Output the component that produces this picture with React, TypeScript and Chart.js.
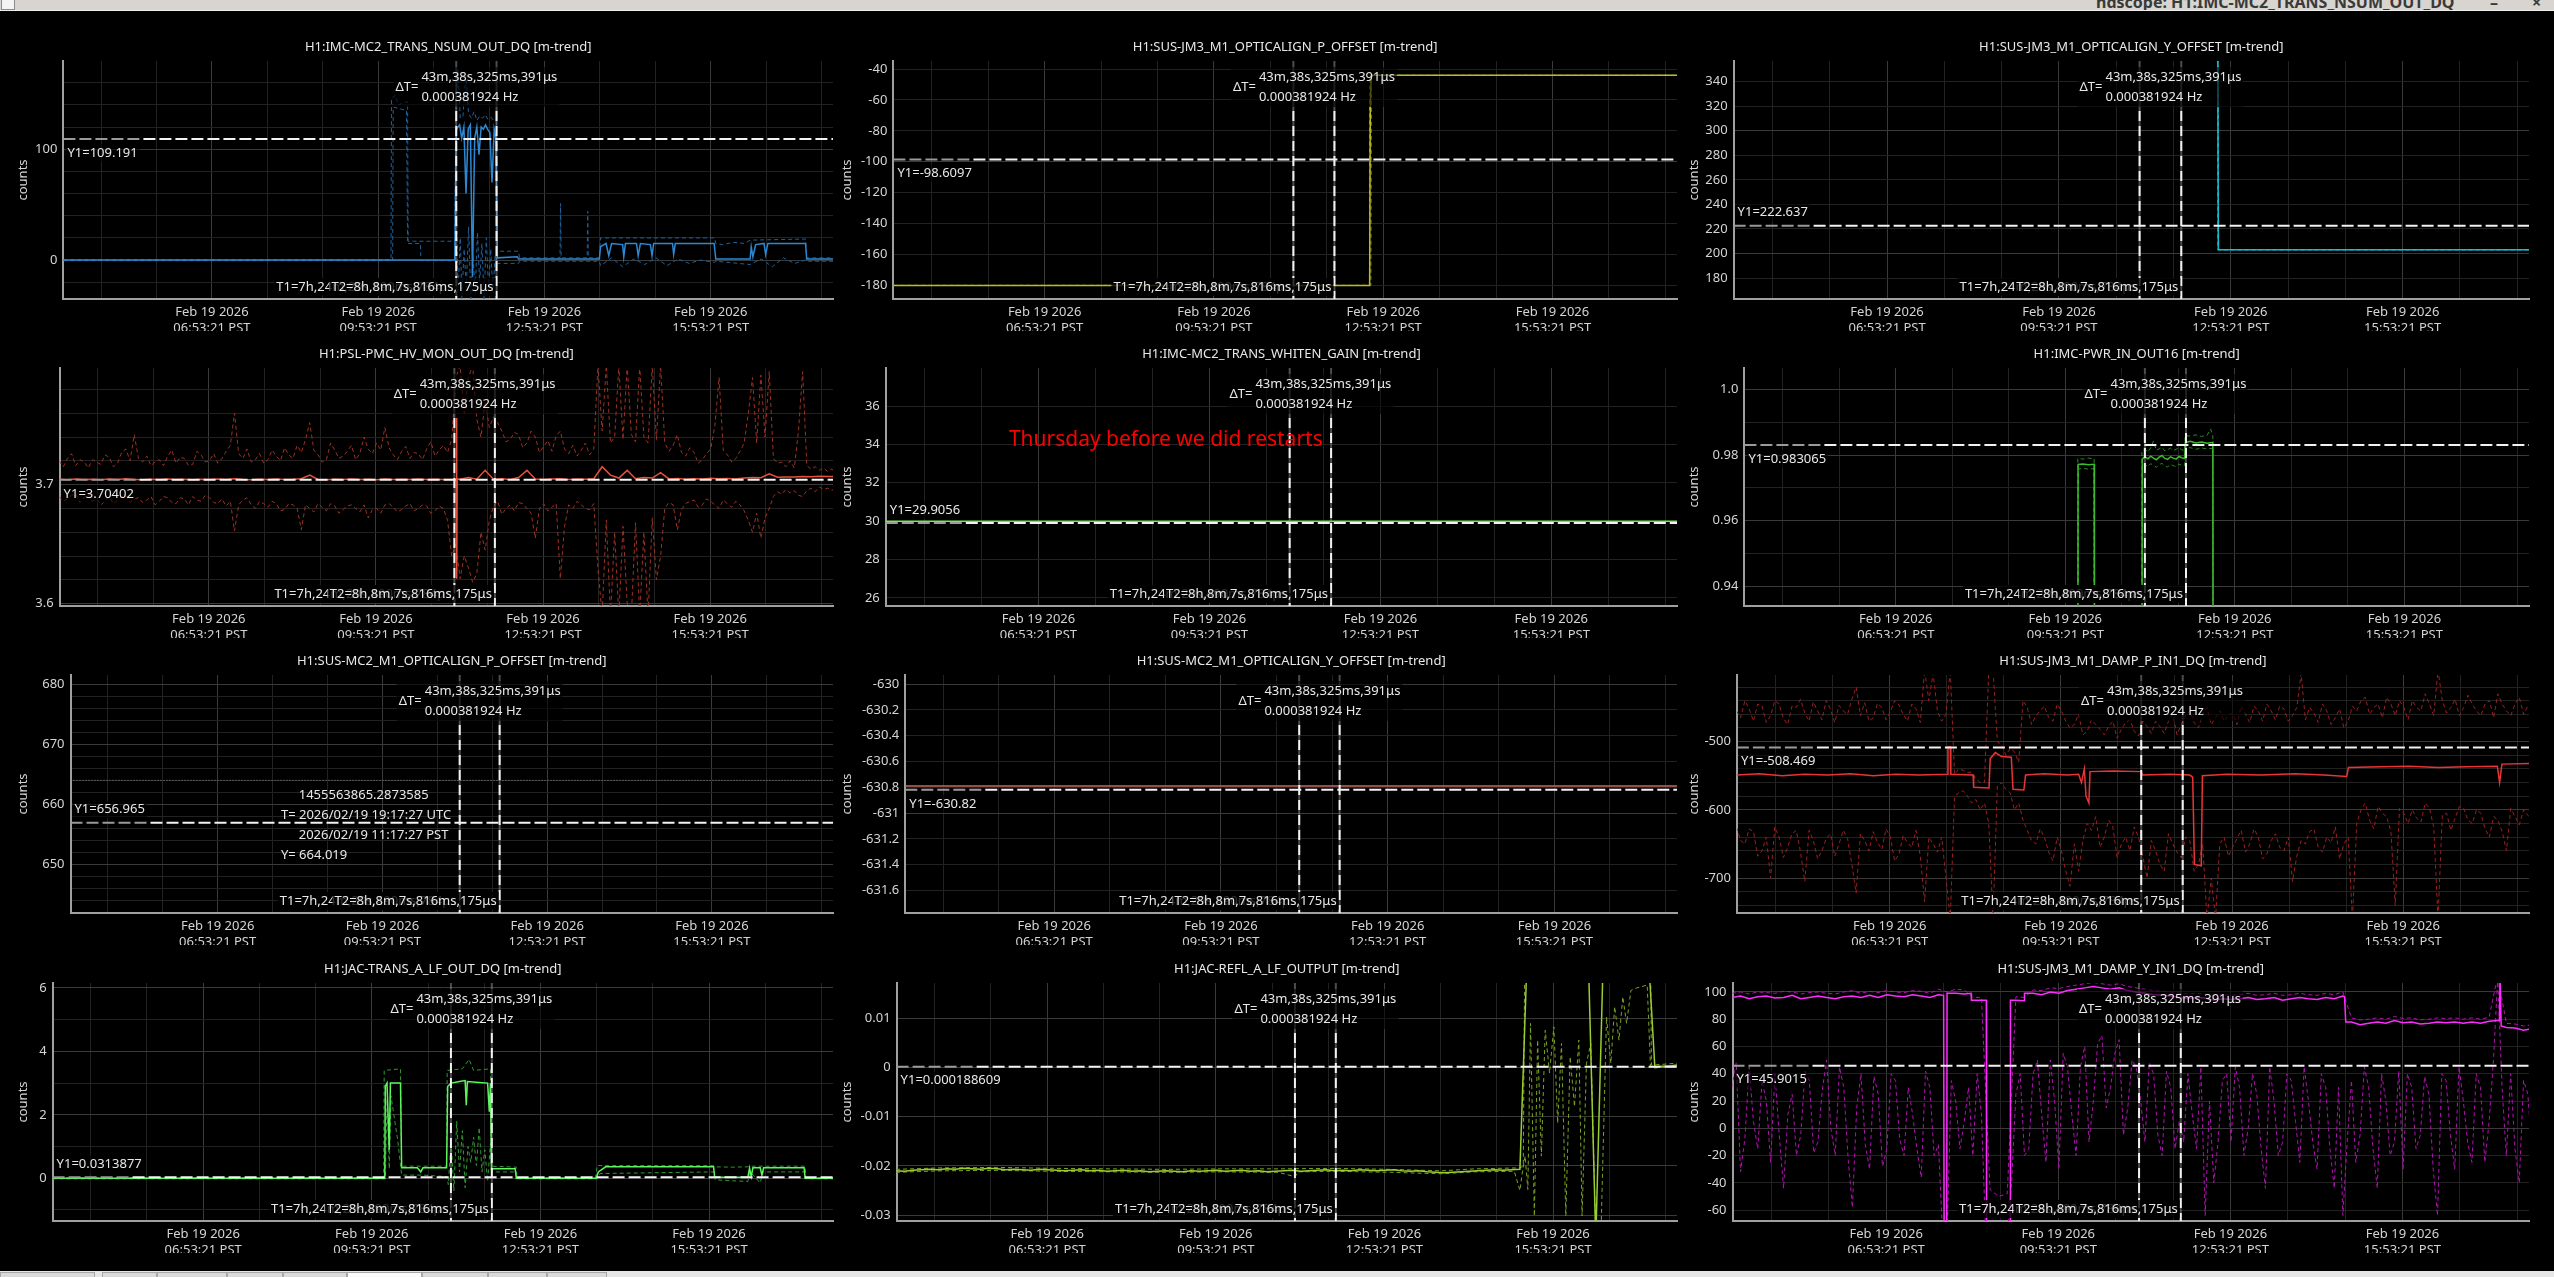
import React, { useEffect, useRef } from "react";
import { Chart, registerables } from "chart.js";

Chart.register(...registerables);

const FONT = '"Noto Sans", "Open Sans", "DejaVu Sans", sans-serif';
const TEXT_COLOR = "#e8e8e8";
const TICK_COLOR = "#d4d4d4";
const GRID_MAJOR = "#3a3a3a";
const GRID_MINOR = "#222222";
const AXIS_COLOR = "#a0a0a0";

// ---------- time axis (hours of Feb 19 2026, PST) ----------
const X_MIN = 4.21;
const X_MAX = 18.095;
const X_TICK_HOURS = [4.8892, 5.8892, 6.8892, 7.8892, 8.8892, 9.8892, 10.8892, 11.8892, 12.8892, 13.8892, 14.8892, 15.8892, 16.8892, 17.8892];
const X_TICK_TIMES = ["", "", "06:53:21 PST", "", "", "09:53:21 PST", "", "", "12:53:21 PST", "", "", "15:53:21 PST", "", ""];
const X_TICK_DATE = "Feb 19 2026";

// ---------- cursors ----------
const T1_HOURS = 11.2974;
const T2_HOURS = 12.0247;
const DT_TEXT = "43m,38s,325ms,391\u03bcs";
const DT_FREQ = "0.000381924 Hz";
const T1_TEXT = "T1=7h,24m,29s,490ms,784\u03bcs";
const T2_TEXT = "T2=8h,8m,7s,816ms,175\u03bcs";
const HOVER_LINES = ["1455563865.2873585", "T= 2026/02/19 19:17:27 UTC", "2026/02/19 11:17:27 PST", "Y= 664.019"];
const HOVER_T = 11.2908;
const HOVER_Y = 664.019;
const NOTE_TEXT = "Thursday before we did restarts";

// sample grids used by the noisy trend channels
const GRID_T0 = 4.2;
const GRID_DT = 0.15;
const GRID_DT_FINE = 0.075;

// ---------- P1 IMC-MC2_TRANS_NSUM ----------
const P1_MEAN = [[4.21,0],[11.27,0],[11.299,118],[11.359,122],[11.396,110],[11.435,120],[11.474,60],[11.513,118],[11.552,122],[11.591,-15],[11.63,110],[11.669,120],[11.708,95],[11.747,120],[11.786,118],[11.826,122],[11.865,118],[11.904,115],[11.943,70],[11.982,118],[12.011,110],[12.04,2],[12.4,3],[12.42,1],[13.88,1],[13.9,12],[14.0,15],[14.05,4],[14.1,15],[14.3,14],[14.32,3],[14.35,15],[14.55,15],[14.58,4],[14.62,15],[14.8,14],[14.83,4],[14.86,15],[15.2,15],[15.22,5],[15.25,15],[15.95,15],[15.98,1],[16.6,1],[16.62,12],[16.65,3],[16.7,14],[16.85,15],[16.88,5],[16.92,15],[17.6,15],[17.62,1],[18.1,1]];
const P1_MAX = [[4.21,0.5],[10.12,0.5],[10.13,145],[10.2,149],[10.25,140],[10.42,143],[10.43,17],[11.27,17],[11.29,135],[11.33,172],[11.37,128],[11.42,130],[11.47,168],[11.52,132],[11.57,128],[11.62,134],[11.67,126],[11.72,130],[11.77,128],[11.82,131],[11.87,127],[11.92,129],[11.97,126],[12.02,125],[12.04,8],[12.42,8],[12.44,2],[13.17,2],[13.18,51],[13.19,2],[13.66,2],[13.67,44],[13.68,2],[13.88,2],[13.9,20],[15.96,20],[15.98,15],[16.1,14],[16.3,16],[16.5,15],[16.6,18],[17.6,19],[17.62,2],[18.1,2]];
const P1_MIN = [[4.21,-0.5],[10.15,-0.5],[10.16,138],[10.4,135],[10.42,15],[10.65,15],[10.66,-0.5],[11.28,-0.5],[11.3,60],[11.33,-30],[11.37,20],[11.4,-35],[11.44,10],[11.48,-25],[11.52,30],[11.56,-35],[11.6,5],[11.64,-30],[11.68,25],[11.72,-20],[11.76,15],[11.8,-35],[11.84,20],[11.88,-25],[11.92,10],[11.96,-30],[12.0,5],[12.04,-3],[12.42,-3],[12.44,-1],[13.88,-1],[13.9,-5],[14.1,2],[14.3,-6],[14.5,1],[14.7,-4],[14.9,2],[15.1,-5],[15.3,1],[15.5,-3],[15.7,0],[15.96,-2],[15.98,-1],[16.6,-4],[16.8,1],[17.0,-6],[17.2,2],[17.4,-3],[17.6,0],[17.62,-1],[18.1,-1]];

// ---------- P2 SUS-JM3 P OFFSET ----------
const P2_MEAN = [[4.21,-180],[12.649,-180],[12.66,-67],[12.675,-44.1],[18.1,-44.1]];
const P2_MAX = [[4.21,-180],[12.645,-180],[12.65,-44.1],[18.1,-44.1]];
const P2_MIN = [[4.21,-180],[12.67,-180],[12.68,-44.1],[18.1,-44.1]];

// ---------- P3 SUS-JM3 Y OFFSET ----------
const P3_MEAN = [[4.21,420],[12.66,420],[12.665,316],[12.672,203],[18.1,203]];
const P3_MAX = [[4.21,420],[12.672,420],[12.678,203],[18.1,203]];
const P3_MIN = [[4.21,420],[12.655,420],[12.66,203],[18.1,203]];

// ---------- P4 PSL-PMC_HV_MON ----------
const P4_MEAN = [3.7045,3.7040,3.7048,3.7042,3.7046,3.7041,3.7047,3.7043,3.7049,3.7044,3.7040,3.7046,3.7042,3.7047,3.7043,3.7045,3.7041,3.7046,3.7042,3.7047,3.7043,3.7050,3.7044,3.7040,3.7046,3.7042,3.7047,3.7043,3.7045,3.7050,3.7080,3.7044,3.7041,3.7046,3.7042,3.7047,3.7043,3.7046,3.7041,3.7048,3.7043,3.7046,3.7042,3.7047,3.7044,3.7046,3.7042,3.7044,3.7046,3.7060,3.7045,3.7120,3.7046,3.7050,3.7044,3.7060,3.7120,3.7048,3.7044,3.7047,3.7050,3.7044,3.7048,3.7045,3.7050,3.7150,3.7080,3.7055,3.7120,3.7050,3.7060,3.7055,3.7100,3.7048,3.7052,3.7046,3.7050,3.7047,3.7053,3.7049,3.7051,3.7047,3.7055,3.7060,3.7058,3.7090,3.7062,3.7065,3.7063,3.7068,3.7066,3.7070,3.7068,3.7070];
const P4_MEAN_EXTRA = [[11.33,3.7045],[11.336,3.756],[11.342,3.621],[11.348,3.7048]];
const P4_MAX = [3.720,3.715,3.722,3.726,3.716,3.721,3.719,3.714,3.721,3.719,3.717,3.725,3.723,3.715,3.718,3.727,3.730,3.720,3.742,3.722,
3.719,3.724,3.716,3.719,3.721,3.716,3.724,3.729,3.718,3.723,3.722,3.716,3.717,3.728,3.725,3.719,3.720,3.726,3.718,3.722,
3.728,3.733,3.760,3.726,3.722,3.730,3.719,3.721,3.726,3.718,3.721,3.729,3.724,3.720,3.731,3.725,3.722,3.733,3.727,3.738,
3.752,3.729,3.725,3.719,3.721,3.735,3.729,3.722,3.724,3.728,3.733,3.721,3.726,3.740,3.730,3.726,3.735,3.729,3.748,3.731,
3.725,3.721,3.728,3.732,3.722,3.727,3.726,3.721,3.730,3.736,3.724,3.729,3.733,3.727,3.738,3.790,3.800,3.760,3.790,3.800,
3.755,3.740,3.770,3.748,3.757,3.752,3.745,3.736,3.738,3.744,3.742,3.731,3.735,3.745,3.740,3.727,3.732,3.737,3.728,3.741,
3.745,3.730,3.726,3.733,3.724,3.729,3.735,3.725,3.730,3.800,3.745,3.800,3.735,3.740,3.800,3.738,3.800,3.742,3.736,3.800,
3.740,3.735,3.800,3.738,3.800,3.735,3.728,3.733,3.742,3.727,3.724,3.731,3.727,3.718,3.721,3.726,3.730,3.750,3.790,3.729,
3.725,3.719,3.722,3.728,3.735,3.760,3.790,3.735,3.792,3.740,3.795,3.722,3.718,3.719,3.715,3.720,3.714,3.745,3.795,3.716,
3.713,3.715,3.712,3.714,3.711,3.713,3.710];
const P4_MIN = [3.690,3.686,3.688,3.691,3.692,3.685,3.689,3.692,3.686,3.688,3.683,3.686,3.690,3.684,3.687,3.690,3.691,3.685,3.688,3.689,
3.685,3.687,3.690,3.683,3.686,3.690,3.689,3.685,3.684,3.689,3.688,3.683,3.690,3.687,3.686,3.691,3.689,3.685,3.684,3.688,
3.682,3.686,3.661,3.683,3.687,3.689,3.683,3.680,3.686,3.684,3.681,3.686,3.684,3.678,3.679,3.684,3.683,3.680,3.662,3.683,
3.680,3.677,3.684,3.681,3.678,3.684,3.682,3.676,3.679,3.682,3.683,3.680,3.677,3.683,3.672,3.679,3.680,3.676,3.683,3.684,
3.681,3.677,3.679,3.682,3.684,3.678,3.680,3.683,3.682,3.676,3.678,3.682,3.680,3.670,3.640,3.650,3.621,3.640,3.630,3.618,
3.625,3.660,3.645,3.670,3.682,3.686,3.675,3.680,3.683,3.678,3.685,3.684,3.680,3.676,3.655,3.680,3.684,3.678,3.681,3.684,
3.621,3.665,3.683,3.680,3.686,3.683,3.680,3.679,3.684,3.630,3.590,3.670,3.590,3.660,3.590,3.665,3.600,3.590,3.668,3.590,
3.660,3.590,3.672,3.620,3.640,3.680,3.685,3.683,3.662,3.679,3.684,3.686,3.687,3.681,3.683,3.688,3.686,3.683,3.680,3.687,
3.684,3.681,3.686,3.683,3.678,3.670,3.660,3.676,3.655,3.672,3.680,3.690,3.694,3.692,3.696,3.693,3.695,3.691,3.690,3.695,
3.697,3.694,3.698,3.696,3.697,3.695,3.698];

// ---------- P5 WHITEN_GAIN ----------
const P5_MEAN = [[4.21,30.0],[18.1,30.0]];

// ---------- P6 IMC-PWR_IN ----------
const P6_MEAN = [[4.21,0.9],[10.11,0.9],[10.115,0.9772],[10.2,0.9773],[10.3,0.9771],[10.40,0.9772],[10.405,0.9],[11.245,0.9],[11.25,0.9788],[11.3,0.9795],[11.35,0.9789],[11.4,0.9797],[11.45,0.9791],[11.5,0.9786],[11.55,0.9794],[11.6,0.9799],[11.65,0.979],[11.7,0.9787],[11.75,0.9795],[11.8,0.9791],[11.85,0.9788],[11.9,0.9796],[11.95,0.9792],[12.0,0.979],[12.012,0.9838],[12.1,0.9842],[12.2,0.9837],[12.3,0.984],[12.4,0.9836],[12.5,0.9839],[12.505,0.9],[18.1,0.9]];
const P6_MAX = [[4.21,0.9],[10.105,0.9],[10.11,0.979],[10.2,0.9788],[10.3,0.9791],[10.40,0.9789],[10.405,0.9],[11.24,0.9],[11.245,0.9812],[11.3,0.9818],[11.35,0.981],[11.4,0.9822],[11.45,0.9843],[11.5,0.9815],[11.55,0.9819],[11.6,0.9824],[11.65,0.9813],[11.7,0.9817],[11.75,0.9821],[11.8,0.9814],[11.85,0.9818],[11.9,0.9823],[11.95,0.9816],[12.0,0.9815],[12.01,0.986],[12.1,0.9858],[12.2,0.9862],[12.3,0.9857],[12.4,0.9861],[12.46,0.988],[12.5,0.9859],[12.51,0.9],[18.1,0.9]];
const P6_MIN = [[4.21,0.9],[10.12,0.9],[10.125,0.9758],[10.2,0.976],[10.3,0.9757],[10.395,0.9759],[10.4,0.9],[11.25,0.9],[11.255,0.9768],[11.3,0.9772],[11.35,0.9765],[11.4,0.9774],[11.45,0.9769],[11.5,0.9763],[11.55,0.9771],[11.6,0.9775],[11.65,0.9767],[11.7,0.9764],[11.75,0.9772],[11.8,0.9768],[11.85,0.9765],[11.9,0.9773],[11.95,0.9769],[12.0,0.9768],[12.015,0.982],[12.1,0.9823],[12.2,0.9818],[12.3,0.9822],[12.4,0.9819],[12.5,0.9821],[12.502,0.9],[18.1,0.9]];

// ---------- P7 / P8 constant offsets ----------
const P7_MEAN = [[4.21,664.02],[18.1,664.02]];
const P8_MEAN = [[4.21,-630.79],[18.1,-630.79]];

// ---------- P9 SUS-JM3_M1_DAMP_P ----------
const P9_MEAN = [[4.19,-549],[4.6,-547],[5.0,-550],[5.4,-548],[5.8,-549],[6.2,-547],[6.6,-550],[7.0,-548],[7.4,-549],[7.9,-548],[7.91,-508],[7.95,-508],[7.96,-548],[8.35,-549],[8.36,-567],[8.63,-568],[8.65,-525],[8.74,-516],[8.85,-522],[9.02,-523],[9.05,-570],[9.24,-571],[9.27,-549],[9.6,-547],[10.0,-549],[10.2,-548],[10.25,-560],[10.3,-540],[10.33,-580],[10.38,-590],[10.4,-544],[10.8,-543],[11.3,-544],[11.32,-549],[11.8,-548],[12.15,-549],[12.2,-552],[12.23,-680],[12.35,-682],[12.37,-550],[12.8,-548],[13.4,-549],[14.0,-547],[14.5,-549],[14.9,-551],[14.93,-538],[15.5,-537],[16.0,-536],[16.5,-538],[17.0,-537],[17.54,-536],[17.58,-560],[17.62,-533],[18.12,-532]];
const P9_MAX = [-455,-465,-440,-452,-470,-445,-448,-472,-462,-440,-445,-466,-475,-448,-450,-438,-458,-470,-442,-455,
-468,-440,-452,-472,-447,-455,-460,-438,-420,-462,-443,-470,-465,-444,-450,-468,-456,-440,-446,-460,
-470,-445,-452,-472,-395,-440,-400,-455,-470,-460,-395,-548,-540,-542,-545,-545,-555,-560,-560,-395,
-395,-500,-505,-520,-510,-515,-530,-440,-450,-475,-462,-455,-448,-465,-470,-445,-455,-470,-480,-475,
-460,-490,-485,-468,-475,-482,-490,-478,-470,-495,-482,-472,-468,-485,-492,-470,-478,-488,-470,-478,
-488,-470,-460,-490,-475,-462,-455,-472,-480,-460,-450,-475,-465,-455,-470,-462,-458,-475,-448,-460,
-472,-448,-455,-470,-445,-455,-468,-448,-452,-470,-462,-450,-400,-468,-450,-458,-472,-445,-455,-475,
-465,-452,-480,-470,-448,-455,-440,-435,-460,-450,-445,-465,-435,-445,-462,-440,-450,-468,-440,-450,
-455,-430,-445,-462,-395,-440,-458,-450,-438,-462,-450,-432,-445,-455,-462,-445,-440,-465,-430,-445,
-455,-462,-445,-435,-460,-448,-450];
const P9_MIN = [-625,-645,-650,-628,-632,-668,-660,-640,-700,-625,-640,-670,-655,-635,-630,-662,-705,-630,-645,-672,
-660,-642,-635,-668,-650,-630,-642,-680,-722,-635,-645,-660,-632,-648,-658,-628,-640,-675,-665,-638,
-648,-655,-630,-668,-735,-640,-650,-662,-640,-700,-760,-580,-575,-572,-580,-590,-585,-600,-590,-620,
-760,-565,-560,-570,-575,-600,-590,-615,-630,-645,-650,-628,-640,-662,-675,-640,-660,-690,-712,-650,
-690,-645,-620,-630,-610,-655,-640,-615,-625,-670,-650,-640,-660,-625,-640,-668,-700,-645,-660,-680,
-690,-635,-650,-662,-670,-640,-645,-690,-680,-650,-760,-700,-760,-650,-640,-668,-655,-642,-630,-662,
-650,-628,-640,-672,-665,-645,-635,-655,-660,-640,-705,-668,-645,-650,-632,-628,-655,-662,-640,-648,
-625,-672,-650,-640,-760,-620,-600,-590,-615,-628,-595,-605,-610,-632,-740,-598,-605,-620,-600,-612,
-618,-590,-598,-625,-760,-608,-605,-630,-612,-595,-598,-615,-620,-600,-605,-628,-640,-610,-615,-632,
-660,-598,-610,-622,-600,-608,-615];

// ---------- P10 JAC-TRANS_A_LF ----------
const P10_MEAN = [[4.21,0],[10.12,0],[10.13,2.9],[10.16,3.0],[10.2,0.9],[10.22,3.0],[10.4,3.0],[10.42,0.33],[10.7,0.33],[10.76,0.2],[10.8,0.33],[11.22,0.33],[11.24,2.9],[11.3,3.0],[11.45,3.05],[11.55,3.08],[11.57,2.3],[11.59,3.05],[11.8,3.02],[11.95,3.0],[11.98,2.1],[12.0,3.0],[12.02,0.3],[12.44,0.3],[12.46,0],[13.88,0],[13.92,0.2],[14.05,0.36],[15.97,0.36],[15.99,0.03],[16.58,0.03],[16.61,0.32],[16.64,0.05],[16.67,0.33],[16.8,0.33],[16.83,0.1],[16.86,0.33],[17.58,0.33],[17.6,0],[18.1,0]];
const P10_MAX = [[4.21,0.02],[10.1,0.02],[10.11,3.4],[10.4,3.45],[10.42,0.38],[11.22,0.38],[11.23,3.4],[11.5,3.45],[11.62,3.75],[11.7,3.4],[12.0,3.45],[12.02,0.38],[12.46,0.35],[12.47,0.02],[13.87,0.02],[13.9,0.4],[15.97,0.4],[16.0,0.36],[16.3,0.35],[16.58,0.36],[16.6,0.38],[17.6,0.38],[17.61,0.02],[18.1,0.02]];
const P10_MIN = [[4.21,-0.02],[10.13,-0.02],[10.16,2.5],[10.2,0.3],[10.23,2.6],[10.35,1.2],[10.42,0.1],[10.8,0.1],[11.23,0.05],[11.25,-0.2],[11.3,1.2],[11.35,-0.4],[11.4,1.8],[11.45,0.2],[11.5,1.5],[11.55,-0.3],[11.6,1.0],[11.65,0.5],[11.7,1.3],[11.75,0.4],[11.8,1.6],[11.85,0.2],[11.9,0.9],[11.95,-0.1],[12.0,1.1],[12.02,0.2],[12.45,0.2],[12.47,-0.02],[13.9,-0.02],[13.95,0.15],[15.97,0.2],[16.0,-0.05],[16.3,-0.08],[16.58,-0.1],[16.62,0.2],[16.8,-0.15],[16.85,0.2],[17.6,0.2],[17.61,-0.02],[18.1,-0.02]];

// ---------- P11 JAC-REFL_A_LF ----------
const P11_MEAN = [-0.0210,-0.0211,-0.0209,-0.0208,-0.0207,-0.0208,-0.0206,-0.0207,-0.0205,-0.0206,-0.0207,-0.0205,-0.0206,-0.0208,-0.0207,-0.0208,-0.0209,-0.0207,-0.0208,-0.0209,-0.0210,-0.0209,-0.0208,-0.0210,-0.0209,-0.0211,-0.0210,-0.0209,-0.0211,-0.0210,-0.0212,-0.0211,-0.0210,-0.0211,-0.0212,-0.0210,-0.0211,-0.0210,-0.0209,-0.0211,-0.0210,-0.0209,-0.0211,-0.0210,-0.0212,-0.0211,-0.0210,-0.0209,-0.0211,-0.0210,-0.0209,-0.0208,-0.0210,-0.0209,-0.0210,-0.0208,-0.0209,-0.0210,-0.0209,-0.0208,-0.0210,-0.0211,-0.0210,-0.0212,-0.0213,-0.0214,-0.0213,-0.0212,-0.0211,-0.0210,-0.0209,-0.0208,-0.0209,-0.0208,-0.0207,0.030,0.030,0.030,0.030,0.030,0.030,0.030,0.030,-0.035,0.030,0.030,0.030,0.030,0.030,0.030,0.0002,0.0003,0.0004,0.0006];
const P11_MAX = [[4.2,-0.0207],[5,-0.0204],[6,-0.0203],[7,-0.0205],[8,-0.0206],[9,-0.0207],[10,-0.0206],[11,-0.0206],[12,-0.0205],[13,-0.0207],[13.9,-0.021],[14.5,-0.0206],[15.3,-0.0204],[15.36,-0.02],[15.39,0.03],[17.62,0.03],[17.64,0.0005],[18.1,0.0009]];
const P11_MIN = [[4.2,-0.0213],[5,-0.021],[6,-0.0209],[7,-0.0211],[8,-0.0212],[9,-0.0213],[10,-0.0212],[11,-0.0213],[11.3,-0.0222],[11.35,-0.0212],[12,-0.0211],[13,-0.0213],[13.9,-0.0216],[14.5,-0.0212],[15.2,-0.0211],[15.3,-0.025],[15.345,-0.0212],[15.393,-0.018],[15.441,-0.0248],[15.489,0.009],[15.557,-0.0302],[15.615,0.0056],[15.682,-0.018],[15.75,0.0076],[15.827,-0.0011],[15.904,0.0083],[15.972,-0.0113],[16.04,0.0049],[16.117,-0.0302],[16.194,0.0022],[16.271,-0.0079],[16.348,0.0056],[16.406,-0.0302],[16.484,0.0009],[16.561,0.0049],[16.648,-0.033],[16.744,-0.033],[16.841,0.0103],[16.918,0.0009],[16.986,0.0124],[17.063,0.0056],[17.131,0.0144],[17.198,0.009],[17.275,0.0157],[17.372,0.0162],[17.468,0.0165],[17.565,0.0168],[17.623,0.0002],[17.661,-0.0001],[18.095,0.0003]];

// ---------- P12 SUS-JM3_M1_DAMP_Y ----------
const P12_MEAN = [96,97,95,96.5,97,95.5,96,97.5,95,96,97,96,95,96.5,97,96,97.5,96,98,97,96.5,98,97,96,98,99,99,98.5,94,94,-80,-80,-80,94,93.5,99,98,100,99,101,102,103,104,103,102,103,101,100,99,98,97.5,97,96,95,96,95.5,94,95,94.5,95,96,94.5,95,96,94,95,96,95,94.5,96,95,97,78,76,77,78,77,79,77.5,78,76.5,77,78,77.5,78,77,78,77,78.5,79,74,73.5,72,73];
const P12_MEAN_EXTRA = [[7.89,97.5],[7.9,-80],[7.945,-80],[8.37,99],[8.375,94],[8.635,94],[8.64,-80],[9.05,-80],[9.055,94],[9.28,93.5],[9.3,99],[14.88,96.5],[14.9,78],[17.58,79],[17.59,112],[17.61,75]];
const P12_MAX = [99,100,98.5,100,99.5,99,100.5,100,98.5,99.5,100,99,98.5,100,101,99,100.5,99.5,101,100,99.5,101,100.5,99,102,100,102,101.5,96,96,-45,-50,-48,96.5,96,101.5,101,103,102.5,104,105,106,107,106,105,106,104,103,102,101,100.5,100,99,98.5,99,98.5,97.5,98,97.5,98,99,97.5,98,99,97.5,98,99,98,97.5,99,98,100,81,79.5,80,81,80,82,80.5,81,79.5,80,81,80.5,81,80,81,80,81.5,112,77,76.5,75,76];
const P12_MIN = [30,48,-32,-8,45,5,-15,35,20,-25,40,-5,-44,10,25,-20,-5,42,35,-18,
-10,28,50,0,-20,45,30,-22,-58,15,40,-12,-30,38,25,-28,-15,40,35,-8,
-20,30,10,-15,-36,42,30,-20,-12,-80,-80,35,20,-15,5,30,-20,40,10,-80,
-80,-80,-80,-80,-80,-40,25,40,-20,-15,40,50,10,-25,50,20,-30,55,45,10,
-20,45,60,-10,20,62,68,15,30,55,65,-5,15,50,45,20,-10,48,40,-5,
-20,42,30,-15,5,-10,40,10,-15,45,-64,20,-40,-10,35,40,-10,45,30,-20,
0,40,25,-15,-44,45,20,-20,-10,40,35,5,-25,45,20,-10,-30,40,30,-15,
-44,30,-64,-10,35,-25,-5,45,30,-15,-44,40,20,-20,-10,42,-30,40,30,-15,
-5,38,25,-30,-64,40,35,-5,-30,45,20,-10,-25,40,30,-25,5,50,110,30,
-20,40,-15,-40,35,25,-20];

// ---------- layout ----------
const COL_LEFT = [12, 836, 1683];
const COL_RIGHT = [836, 1683, 2554];
const COL_PAD_RIGHT = [3, 6, 25];
const ROW_TOP = [24, 331, 638, 946];
const CANVAS_H = 307;
const PLOT_TOP = 37;
const XAXIS_H = 32;

const fromPairs = (p: number[][]) => p.map(([x, y]) => ({ x, y }));
const fromGrid = (v: number[], dt: number = GRID_DT) => v.map((y, i) => ({ x: GRID_T0 + i * dt, y }));
const withExtra = (pts: any[], extra: number[][]) => [...pts, ...fromPairs(extra)].sort((a, b) => a.x - b.x);

const PANELS: any[] = [
  { title: "H1:IMC-MC2_TRANS_NSUM_OUT_DQ [m-trend]", col: 0, row: 0, plotLeft: 63.4, yMin: -35.1, yMax: 179.6, minor: 20, labelStep: 100, majorStep: 100, y1: 109.191, y1Above: false, color: "#2d88d4", env: "#1f6099", mean: fromPairs(P1_MEAN), min: fromPairs(P1_MIN), max: fromPairs(P1_MAX) },
  { title: "H1:SUS-JM3_M1_OPTICALIGN_P_OFFSET [m-trend]", col: 1, row: 0, plotLeft: 893.4, yMin: -188.8, yMax: -34.8, minor: 20, labelStep: 20, majorStep: 100, y1: -98.6097, y1Above: false, color: "#bcbd22", env: "#8c8d18", mean: fromPairs(P2_MEAN), min: fromPairs(P2_MIN), max: fromPairs(P2_MAX) },
  { title: "H1:SUS-JM3_M1_OPTICALIGN_Y_OFFSET [m-trend]", col: 2, row: 0, plotLeft: 1733.6, yMin: 162.9, yMax: 356.8, minor: 20, labelStep: 20, majorStep: 100, y1: 222.637, y1Above: true, color: "#17becf", env: "#108d99", mean: fromPairs(P3_MEAN), min: fromPairs(P3_MIN), max: fromPairs(P3_MAX) },
  { title: "H1:PSL-PMC_HV_MON_OUT_DQ [m-trend]", col: 0, row: 1, plotLeft: 59.6, yMin: 3.598, yMax: 3.798, minor: 0.02, labelStep: 0.1, majorStep: 0.1, y1: 3.70402, y1Above: false, color: "#e8503a", env: "#9c3222", mean: withExtra(fromGrid(P4_MEAN), P4_MEAN_EXTRA), min: fromGrid(P4_MIN, GRID_DT_FINE), max: fromGrid(P4_MAX, GRID_DT_FINE) },
  { title: "H1:IMC-MC2_TRANS_WHITEN_GAIN [m-trend]", col: 1, row: 1, plotLeft: 885.8, yMin: 25.58, yMax: 37.98, minor: 2, labelStep: 2, majorStep: 10, y1: 29.9056, y1Above: true, color: "#76ea4e", env: "#76ea4e", mean: fromPairs(P5_MEAN), note: { t: 6.37, y: 34.22 } },
  { title: "H1:IMC-PWR_IN_OUT16 [m-trend]", col: 2, row: 1, plotLeft: 1744.4, yMin: 0.934, yMax: 1.00658, minor: 0.01, labelStep: 0.02, majorStep: 0.02, y1: 0.983065, y1Above: false, oneDecimal: true, color: "#3dbb2c", env: "#2a8a20", mean: fromPairs(P6_MEAN), min: fromPairs(P6_MIN), max: fromPairs(P6_MAX) },
  { title: "H1:SUS-MC2_M1_OPTICALIGN_P_OFFSET [m-trend]", col: 0, row: 2, plotLeft: 70.5, yMin: 641.9, yMax: 681.6, minor: 2, labelStep: 10, majorStep: 10, y1: 656.965, y1Above: true, color: "#8e8e8e", env: "#8e8e8e", meanDash: [1, 2], meanWidth: 1, mean: fromPairs(P7_MEAN), hover: true },
  { title: "H1:SUS-MC2_M1_OPTICALIGN_Y_OFFSET [m-trend]", col: 1, row: 2, plotLeft: 905.3, yMin: -631.775, yMax: -629.93, minor: 0.2, labelStep: 0.2, majorStep: 1, y1: -630.82, y1Above: false, color: "#c4685c", env: "#c4685c", mean: fromPairs(P8_MEAN) },
  { title: "H1:SUS-JM3_M1_DAMP_P_IN1_DQ [m-trend]", col: 2, row: 2, plotLeft: 1736.9, yMin: -751.2, yMax: -402.4, minor: 20, labelStep: 100, majorStep: 100, y1: -508.469, y1Above: false, color: "#ea3434", env: "#9a2020", mean: fromPairs(P9_MEAN), min: fromGrid(P9_MIN, GRID_DT_FINE), max: fromGrid(P9_MAX, GRID_DT_FINE) },
  { title: "H1:JAC-TRANS_A_LF_OUT_DQ [m-trend]", col: 0, row: 3, plotLeft: 52.6, yMin: -1.348, yMax: 6.157, minor: 1, labelStep: 2, majorStep: 2, y1: 0.0313877, y1Above: true, color: "#5cf55c", env: "#2f9a2f", mean: fromPairs(P10_MEAN), min: fromPairs(P10_MIN), max: fromPairs(P10_MAX) },
  { title: "H1:JAC-REFL_A_LF_OUTPUT [m-trend]", col: 1, row: 3, plotLeft: 896.6, yMin: -0.03121, yMax: 0.01722, minor: 0.01, labelStep: 0.01, majorStep: 0.01, y1: 0.000188609, y1Above: false, color: "#9acd32", env: "#7aa322", mean: fromGrid(P11_MEAN), min: fromPairs(P11_MIN), max: fromPairs(P11_MAX) },
  { title: "H1:SUS-JM3_M1_DAMP_Y_IN1_DQ [m-trend]", col: 2, row: 3, plotLeft: 1732.5, yMin: -68.0, yMax: 106.57, minor: 20, labelStep: 20, majorStep: 100, y1: 45.9015, y1Above: false, color: "#ff2cff", env: "#b012b0", mean: withExtra(fromGrid(P12_MEAN), P12_MEAN_EXTRA), min: fromGrid(P12_MIN, GRID_DT_FINE), max: fromGrid(P12_MAX) },
];

const isMult = (v: number, step: number) => Math.abs(v / step - Math.round(v / step)) < 1e-6;

function fmtTick(v: number, oneDecimal: boolean) {
  const n = parseFloat(v.toFixed(6));
  if (oneDecimal && Number.isInteger(n)) return n.toFixed(1);
  return String(n);
}

function drawLabel(ctx: CanvasRenderingContext2D, text: string, x: number, y: number, align: string, bg: string | null) {
  const w = ctx.measureText(text).width;
  const left = align === "right" ? x - w : x;
  if (bg) {
    ctx.fillStyle = bg;
    ctx.fillRect(left - 2, y - 9, w + 4, 18);
  }
  ctx.fillStyle = TEXT_COLOR;
  ctx.textAlign = "left";
  ctx.fillText(text, left, y);
}

function makeOverlay(p: any) {
  return {
    id: "ndscopeOverlay",
    afterDatasetsDraw(chart: any) {
      const ctx: CanvasRenderingContext2D = chart.ctx;
      const a = chart.chartArea;
      const xs = chart.scales.x;
      const ys = chart.scales.y;
      ctx.save();
      ctx.font = `13px ${FONT}`;
      ctx.textBaseline = "middle";
      ctx.fillStyle = TEXT_COLOR;
      ctx.textAlign = "center";
      ctx.fillText(p.title, (a.left + a.right) / 2, a.top - 14);

      ctx.beginPath();
      ctx.rect(a.left, a.top, a.right - a.left, a.bottom - a.top);
      ctx.clip();

      const x1 = xs.getPixelForValue(T1_HOURS);
      const x2 = xs.getPixelForValue(T2_HOURS);
      const yc = ys.getPixelForValue(p.y1);

      ctx.setLineDash([]);
      ctx.lineWidth = 2;
      ctx.strokeStyle = "rgba(170,170,170,0.45)";
      for (const xx of [x1, x2]) {
        ctx.beginPath();
        ctx.moveTo(xx, a.top);
        ctx.lineTo(xx, a.bottom);
        ctx.stroke();
      }
      ctx.strokeStyle = "#f2f2f2";
      ctx.setLineDash([10, 5]);
      for (const xx of [x1, x2]) {
        ctx.beginPath();
        ctx.moveTo(xx, a.top + 50);
        ctx.lineTo(xx, a.bottom);
        ctx.stroke();
      }
      ctx.setLineDash([12, 4]);
      ctx.strokeStyle = "#9a9a9a";
      ctx.beginPath();
      ctx.moveTo(a.left, yc);
      ctx.lineTo(a.left + 80, yc);
      ctx.stroke();
      ctx.strokeStyle = "#f2f2f2";
      ctx.beginPath();
      ctx.moveTo(a.left + 80, yc);
      ctx.lineTo(a.right, yc);
      ctx.stroke();
      ctx.setLineDash([]);

      drawLabel(ctx, `Y1=${p.y1}`, a.left + 4, yc + (p.y1Above ? -13 : 14), "left", "rgba(0,0,0,0.55)");

      const wA = ctx.measureText("\u0394T=").width;
      const wB = Math.max(ctx.measureText(DT_TEXT).width, ctx.measureText(DT_FREQ).width);
      const total = wA + 3 + wB;
      const left = (x1 + x2) / 2 - total / 2;
      ctx.fillStyle = "rgba(0,0,0,0.6)";
      ctx.fillRect(left - 2, a.top + 6, total + 4, 40);
      ctx.fillStyle = TEXT_COLOR;
      ctx.textAlign = "left";
      ctx.fillText("\u0394T=", left, a.top + 26);
      ctx.fillText(DT_TEXT, left + wA + 3, a.top + 16);
      ctx.fillText(DT_FREQ, left + wA + 3, a.top + 36);

      const yT = a.bottom - 12;
      drawLabel(ctx, T1_TEXT, x1 - 3, yT, "right", "rgba(0,0,0,0.8)");
      drawLabel(ctx, T2_TEXT, x2 - 3, yT, "right", "rgba(0,0,0,0.8)");

      if (p.hover) {
        const hx = xs.getPixelForValue(HOVER_T);
        const hy = ys.getPixelForValue(HOVER_Y);
        const indent = [true, false, true, false];
        HOVER_LINES.forEach((s, i) => {
          drawLabel(ctx, s, hx + (indent[i] ? -160.6 : -178.4), hy + 15 + i * 20, "left", null);
        });
      }
      if (p.note) {
        ctx.font = `21px ${FONT}`;
        ctx.fillStyle = "#ff0000";
        ctx.textAlign = "left";
        ctx.fillText(NOTE_TEXT, xs.getPixelForValue(p.note.t), ys.getPixelForValue(p.note.y));
      }
      ctx.restore();
    },
  };
}

function ScopePanel({ p }: { p: any }) {
  const ref = useRef<HTMLCanvasElement | null>(null);
  const w = COL_RIGHT[p.col] - COL_LEFT[p.col];
  useEffect(() => {
    const canvas = ref.current;
    if (!canvas) return;
    const datasets: any[] = [
      { data: p.mean, borderColor: p.color, borderWidth: p.meanWidth || 1.5, borderDash: p.meanDash || [], order: 0 },
    ];
    if (p.max) datasets.push({ data: p.max, borderColor: p.env, borderWidth: 1, borderDash: [4, 3], order: 1 });
    if (p.min) datasets.push({ data: p.min, borderColor: p.env, borderWidth: 1, borderDash: [4, 3], order: 1 });
    datasets.forEach((d) => {
      d.pointRadius = 0;
      d.tension = 0;
      d.fill = false;
      d.spanGaps = true;
    });
    const yAxisW = p.plotLeft - COL_LEFT[p.col];
    const chart = new Chart(canvas, {
      type: "line",
      data: { datasets },
      options: {
        animation: false,
        responsive: false,
        events: [],
        layout: { autoPadding: false, padding: { top: PLOT_TOP, right: COL_PAD_RIGHT[p.col], bottom: 0, left: 0 } },
        plugins: { legend: { display: false }, tooltip: { enabled: false }, title: { display: false } },
        scales: {
          x: {
            type: "linear",
            min: X_MIN,
            max: X_MAX,
            bounds: "data",
            afterBuildTicks: (s: any) => {
              s.ticks = X_TICK_HOURS.map((value) => ({ value }));
            },
            afterFit: (s: any) => {
              s.height = XAXIS_H;
            },
            ticks: {
              autoSkip: false,
              maxRotation: 0,
              minRotation: 0,
              padding: 5,
              color: TICK_COLOR,
              font: { family: FONT, size: 13, lineHeight: 16 / 13 },
              callback: (_v: any, i: number) => (X_TICK_TIMES[i] ? [X_TICK_DATE, X_TICK_TIMES[i]] : ""),
            },
            grid: { color: (c: any) => (X_TICK_TIMES[c.index] ? GRID_MAJOR : GRID_MINOR), lineWidth: 1, drawTicks: false },
            border: { display: true, color: AXIS_COLOR, width: 2 },
          },
          y: {
            type: "linear",
            min: p.yMin,
            max: p.yMax,
            bounds: "data",
            afterBuildTicks: (s: any) => {
              const t: any[] = [];
              const k0 = Math.ceil(p.yMin / p.minor - 1e-9);
              const k1 = Math.floor(p.yMax / p.minor + 1e-9);
              for (let k = k0; k <= k1; k++) t.push({ value: k * p.minor });
              s.ticks = t;
            },
            afterFit: (s: any) => {
              s.width = yAxisW;
            },
            ticks: {
              autoSkip: false,
              padding: 6,
              color: TICK_COLOR,
              font: { family: FONT, size: 13 },
              callback: (v: any) => (isMult(v, p.labelStep) ? fmtTick(v, !!p.oneDecimal) : ""),
            },
            grid: { color: (c: any) => (c.tick && isMult(c.tick.value, p.majorStep) ? GRID_MAJOR : GRID_MINOR), lineWidth: 1, drawTicks: false },
            border: { display: true, color: AXIS_COLOR, width: 2 },
            title: { display: true, text: "counts", color: TICK_COLOR, font: { family: FONT, size: 13 }, padding: { top: 3, bottom: 0 } },
          },
        },
      } as any,
      plugins: [makeOverlay(p) as any],
    });
    return () => chart.destroy();
  }, []);
  return (
    <canvas
      ref={ref}
      width={w}
      height={CANVAS_H}
      style={{ position: "absolute", left: COL_LEFT[p.col], top: ROW_TOP[p.row], width: w, height: CANVAS_H, display: "block" }}
    />
  );
}

const TABS = [[0, 95], [102, 157], [157, 227], [227, 283], [283, 347], [347, 422], [422, 488], [488, 547], [547, 607]];

export default function App() {
  useEffect(() => {
    document.body.style.margin = "0";
    document.body.style.background = "#000";
  }, []);
  return (
    <div style={{ position: "fixed", left: 0, top: 0, width: 2554, height: 1277, background: "#000", overflow: "hidden", fontFamily: FONT }}>
      <div style={{ position: "absolute", left: 0, top: 0, width: 2554, height: 10, background: "#d8d5d0", overflow: "hidden" }}>
        <div style={{ position: "absolute", left: 1, top: -1, width: 12, height: 9, border: "1px solid #8a8a8a", background: "#f4f4f4" }} />
        <div style={{ position: "absolute", left: 2096, top: -6, font: `bold 16px ${FONT}`, lineHeight: "16px", color: "#3a3a3a", whiteSpace: "nowrap" }}>
          ndscope: H1:IMC-MC2_TRANS_NSUM_OUT_DQ
        </div>
        <div style={{ position: "absolute", left: 2490, top: -6, font: `bold 16px ${FONT}`, lineHeight: "16px", color: "#3a3a3a" }}>{"\u2013"}</div>
        <div style={{ position: "absolute", left: 2532, top: -6, font: `bold 16px ${FONT}`, lineHeight: "16px", color: "#3a3a3a" }}>{"\u00d7"}</div>
      </div>
      <div style={{ position: "absolute", left: 0, top: 10, width: 2554, height: 1, background: "#f0f0f0" }} />
      {PANELS.map((p, i) => (
        <ScopePanel key={i} p={p} />
      ))}
      <div style={{ position: "absolute", left: 0, top: 1271, width: 2554, height: 6, background: "#e6e6e6" }}>
        {TABS.map(([l, r], i) => (
          <div
            key={i}
            style={{
              position: "absolute",
              left: l,
              top: 1,
              width: r - l - 2,
              height: 6,
              borderTop: "1px solid #a8a8a8",
              borderLeft: "1px solid #a8a8a8",
              borderRight: "1px solid #a8a8a8",
              background: i === 5 ? "#fbfbfb" : "#dadada",
            }}
          />
        ))}
      </div>
    </div>
  );
}
